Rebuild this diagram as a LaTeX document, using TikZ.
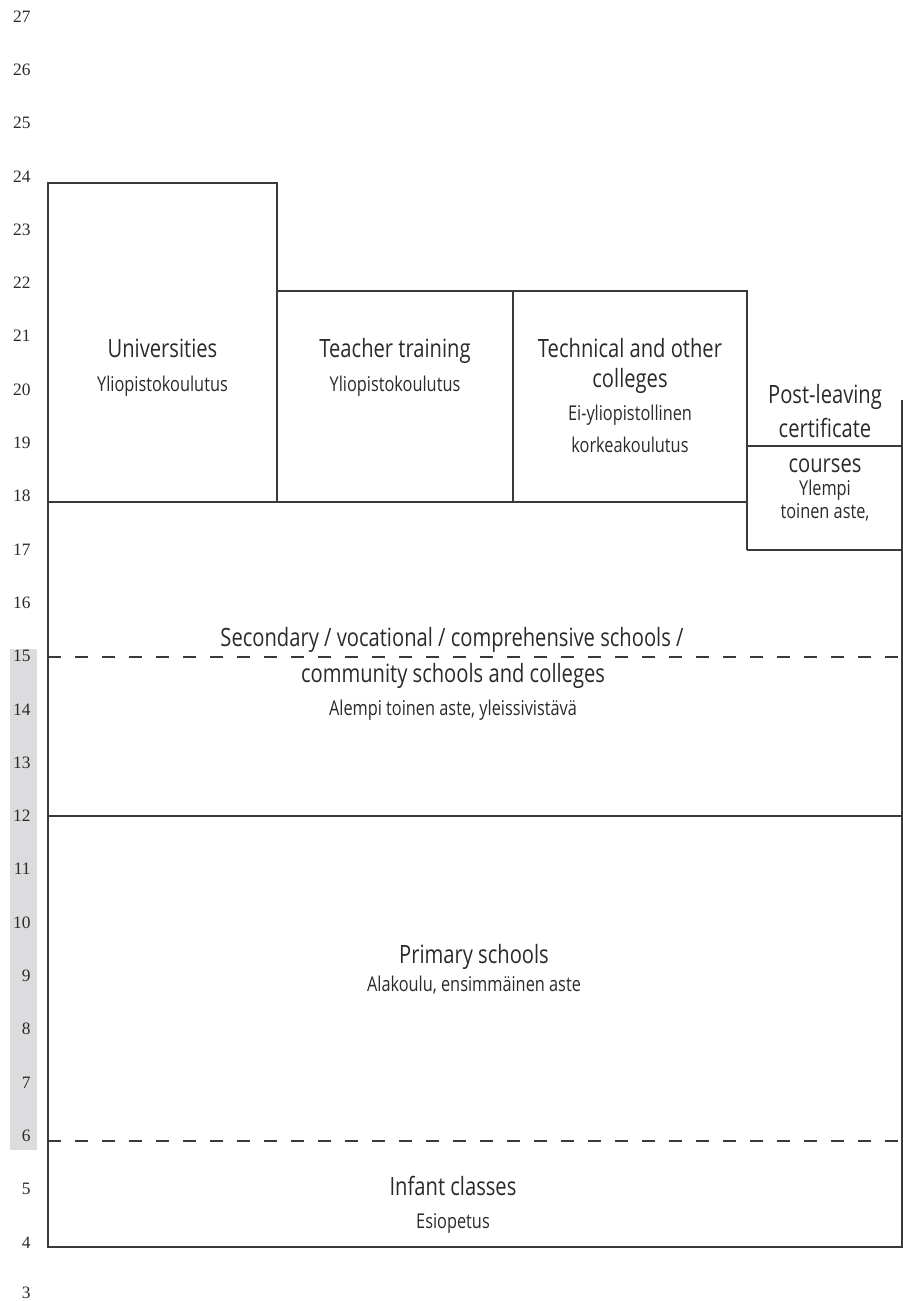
\documentclass[tikz,border=0pt]{standalone}
\usepackage{fontspec}
\setmainfont{Open Sans}[FakeStretch=0.8]
\newfontfamily\agefont{Liberation Serif}
\definecolor{linegray}{HTML}{3A3A3A}
\definecolor{textgray}{HTML}{2A2A2A}
\definecolor{bandgray}{HTML}{DCDCDE}
\begin{document}
\begin{tikzpicture}[x=0.5pt, y=-0.5pt,
    frame/.style={draw=linegray, line width=0.65pt},
    split/.style={frame, dash pattern=on 6.5pt off 7pt},
    title/.style={anchor=base, inner sep=0pt, text=textgray, font=\fontsize{12.6}{14}\selectfont},
    sub/.style={anchor=base, inner sep=0pt, text=textgray, font=\fontsize{10.2}{12}\selectfont},
    age/.style={anchor=base east, inner sep=0pt, text=textgray, font=\agefont\fontsize{8.7}{10}\selectfont}]
        \useasboundingbox (0, 0) rectangle (903, 1301);

        % Compulsory ages (grey band)
        \fill [bandgray] (10, 649) rectangle (37, 1150);

        % Ages
        \node [age] (a27) at (31, 22.1) {27};
        \node [age] (a26) at (31, 75.4) {26};
        \node [age] (a25) at (31, 128.7) {25};
        \node [age] (a24) at (31, 182.0) {24};
        \node [age] (a23) at (31, 235.3) {23};
        \node [age] (a22) at (31, 288.6) {22};
        \node [age] (a21) at (31, 341.9) {21};
        \node [age] (a20) at (31, 395.2) {20};
        \node [age] (a19) at (31, 448.5) {19};
        \node [age] (a18) at (31, 501.8) {18};
        \node [age] (a17) at (31, 555.1) {17};
        \node [age] (a16) at (31, 608.4) {16};
        \node [age] (a15) at (31, 661.7) {15};
        \node [age] (a14) at (31, 715.0) {14};
        \node [age] (a13) at (31, 768.3) {13};
        \node [age] (a12) at (31, 821.6) {12};
        \node [age] (a11) at (31, 874.9) {11};
        \node [age] (a10) at (31, 928.2) {10};
        \node [age] (a9) at (31, 981.5) {9};
        \node [age] (a8) at (31, 1034.8) {8};
        \node [age] (a7) at (31, 1088.1) {7};
        \node [age] (a6) at (31, 1141.4) {6};
        \node [age] (a5) at (31, 1194.7) {5};
        \node [age] (a4) at (31, 1248.0) {4};
        \node [age] (a3) at (31, 1298.5) {3};

        % Tertiary level (top)
        \draw [frame] (48, 502) -- (48, 183) -- (277, 183) -- (277, 502);
        \draw [frame] (277, 291) -- (747, 291) -- (747, 550);
        \draw [frame] (513, 291) -- (513, 502);
        \draw [frame] (48, 502) -- (747, 502);
        \node [title] (uni) at (162.5, 357) {Universities};
        \node [sub] (unisub) at (162.5, 391) {Yliopistokoulutus};
        \node [title] (teach) at (395, 357) {Teacher training};
        \node [sub] (teachsub) at (395, 391) {Yliopistokoulutus};
        \node [title] (tech) at (630, 357) {Technical and other};
        \node [title] (tech2) at (630, 387) {colleges};
        \node [sub] (techsub) at (630, 420) {Ei-yliopistollinen};
        \node [sub] (techsub2) at (630, 452) {korkeakoulutus};

        % Post-leaving certificate (right)
        \draw [frame] (747, 446) -- (902, 446);
        \draw [frame] (747, 550) -- (902, 550);
        \node [title] (plc) at (825, 403) {Post-leaving};
        \node [title] (plc2) at (825, 437) {certificate};
        \node [title] (plc3) at (825, 472) {courses};
        \node [sub] (plcsub) at (825, 495) {Ylempi};
        \node [sub] (plcsub2) at (825, 518) {toinen aste,};

        % Secondary level
        \draw [frame] (48, 502) -- (48, 1247) -- (902, 1247) -- (902, 400);
        \draw [split] (48, 657) -- (902, 657);
        \draw [frame] (48, 816) -- (902, 816);
        \node [title] (sec) at (452, 646) {Secondary / vocational / comprehensive schools /};
        \node [title] (sec2) at (453, 682) {community schools and colleges};
        \node [sub] (secsub) at (453, 715) {Alempi toinen aste, yleissivistävä};

        % Primary level and infant classes
        \draw [split] (48, 1141) -- (902, 1141);
        \node [title] (prim) at (474, 963) {Primary schools};
        \node [sub] (primsub) at (474, 991) {Alakoulu, ensimmäinen aste};
        \node [title] (inf) at (453, 1195) {Infant classes};
        \node [sub] (infsub) at (453, 1228) {Esiopetus};
\end{tikzpicture}
\end{document}
